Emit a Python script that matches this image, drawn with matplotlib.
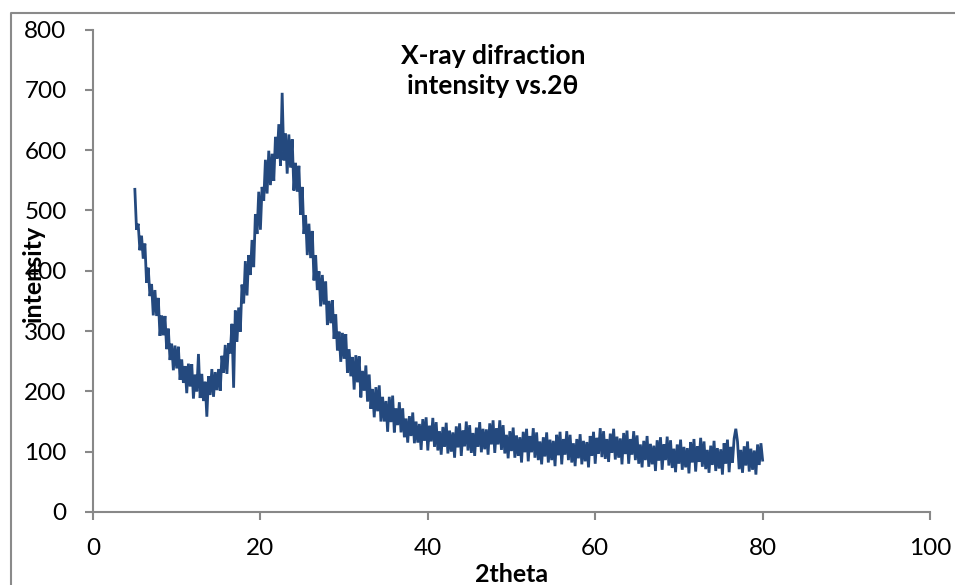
import matplotlib
matplotlib.use("Agg")
import matplotlib.pyplot as plt
from matplotlib.lines import Line2D
import numpy as np

two_theta_start = 5.0
two_theta_step = 0.2

intensity = [
    535, 468, 478, 434, 458,   # 5
    420, 445, 380, 405, 358,   # 6
    378, 326, 368, 325, 355,   # 7
    292, 326, 293, 325, 270,   # 8
    304, 252, 279, 235, 276,   # 9
    238, 274, 219, 253, 214,   # 10
    242, 197, 246, 208, 245,   # 11
    188, 228, 200, 262, 189,   # 12
    229, 184, 216, 158, 225,   # 13
    194, 237, 191, 232, 202,   # 14
    237, 201, 259, 231, 277,   # 15
    229, 280, 263, 312, 206,   # 16
    334, 282, 339, 299, 377,   # 17
    346, 416, 359, 426, 393,   # 18
    451, 406, 494, 461, 531,   # 19
    468, 539, 516, 584, 528,   # 20
    599, 542, 594, 549, 622,   # 21
    586, 643, 574, 695, 583,   # 22
    628, 561, 626, 571, 618,   # 23
    533, 579, 531, 574, 493,   # 24
    539, 461, 492, 426, 478,   # 25
    421, 466, 384, 426, 368,   # 26
    399, 341, 393, 344, 382,   # 27
    310, 350, 313, 351, 287,   # 28
    328, 268, 299, 249, 297,   # 29
    254, 295, 231, 270, 225,   # 30
    257, 203, 260, 215, 258,   # 31
    190, 234, 201, 243, 183,   # 32
    228, 171, 204, 157, 207,   # 33
    167, 210, 150, 191, 150,   # 34
    184, 133, 191, 149, 193,   # 35
    132, 172, 144, 182, 132,   # 36
    172, 124, 155, 115, 159,   # 37
    126, 165, 114, 150, 115,   # 38
    146, 103, 154, 118, 157,   # 39
    102, 143, 117, 156, 108,   # 40
    149, 102, 134, 95, 141,    # 41
    108, 148, 97, 135, 100,    # 42
    132, 90, 142, 107, 147,    # 43
    93, 135, 109, 150, 102,    # 44
    144, 98, 131, 93, 140,     # 45
    108, 149, 99, 138, 104,    # 46
    137, 95, 147, 112, 152,    # 47
    98, 139, 112, 152, 103,    # 48
    144, 97, 128, 89, 134,     # 49
    101, 140, 90, 127, 93,     # 50
    124, 82, 133, 99, 138,     # 51
    84, 126, 99, 139, 90,      # 52
    132, 86, 117, 79, 124,     # 53
    92, 132, 82, 120, 86,      # 54
    118, 76, 128, 94, 133,     # 55
    79, 121, 95, 134, 86,      # 56
    128, 82, 114, 76, 121,     # 57
    89, 129, 79, 118, 84,      # 58
    116, 74, 126, 93, 133,     # 59
    80, 123, 97, 139, 91,      # 60
    134, 88, 121, 83, 130,     # 61
    98, 138, 87, 125, 90,      # 62
    122, 79, 131, 96, 135,     # 63
    80, 121, 95, 134, 86,      # 64
    127, 80, 112, 74, 118,     # 65
    86, 126, 75, 113, 79,      # 66
    110, 68, 119, 85, 124,     # 67
    70, 112, 86, 125, 77,      # 68
    119, 73, 105, 66, 112,     # 69
    80, 120, 70, 108, 74,      # 70
    106, 64, 116, 82, 121,     # 71
    67, 109, 83, 123, 75,      # 72
    117, 71, 103, 65, 110,     # 73
    78, 118, 68, 106, 72,      # 74
    104, 62, 114, 80, 120,     # 75
    66, 108, 82, 122, 138,     # 76
    117, 71, 103, 65, 109,     # 77
    77, 117, 67, 105, 70,      # 78
    102, 62, 112, 78, 114,     # 79
    86,                        # 80
]

x_ticks = [0, 20, 40, 60, 80, 100]
y_ticks = [0, 100, 200, 300, 400, 500, 600, 700, 800]
title_text = "X-ray difraction\nintensity vs.2θ"
x_label = "2theta"
y_label = "intensity"

two_theta = two_theta_start + two_theta_step * np.arange(len(intensity))

plt.rcParams['font.family'] = ['Lato', 'DejaVu Sans']

W, H = 955, 585
fig = plt.figure(figsize=(W / 100, H / 100), dpi=100)
ax = fig.add_axes([93 / W, 1 - 512 / H, (930 - 93) / W, (512 - 29.5) / H])

ax.plot(two_theta, intensity, color='#24497e', linewidth=2.0,
        solid_joinstyle='miter')

ax.set_xlim(0, 100)
ax.set_ylim(0, 800)
ax.set_xticks(x_ticks)
ax.set_yticks(y_ticks)

gray = '#888888'
for s in ['top', 'right']:
    ax.spines[s].set_visible(False)
for s in ['left', 'bottom']:
    ax.spines[s].set_color(gray)
    ax.spines[s].set_linewidth(1.5)
ax.tick_params(axis='both', direction='out', length=6, width=1.5, color=gray,
               labelsize=17.5, labelcolor='black')
ax.tick_params(axis='y', pad=13)
ax.tick_params(axis='x', pad=13)

# chart area border (Excel chart frame)
fig.add_artist(Line2D([11 / W, 11 / W, 1.0], [0.0, 1 - 13 / H, 1 - 13 / H],
                      transform=fig.transFigure, color='#8a8a8a', linewidth=1.5))

fig.text(493 / W, 1 - 71 / H, title_text, ha='center', va='center',
         fontsize=19, fontweight='bold', linespacing=1.25)
fig.text(33 / W, 1 - 273 / H, y_label, ha='center', va='center', rotation=90,
         fontsize=18, fontweight='bold')
fig.text(512 / W, 1 - 575 / H, x_label, ha='center', va='center',
         fontsize=18, fontweight='bold')

fig.savefig('out.png', dpi=100)
